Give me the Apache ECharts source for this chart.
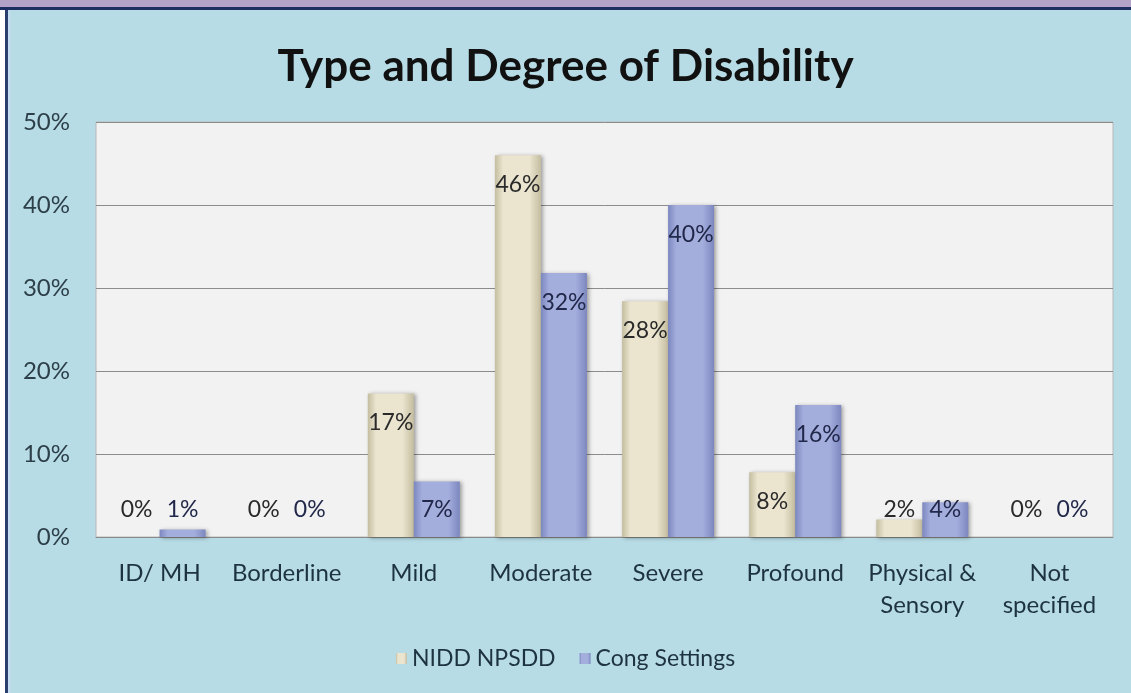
<!DOCTYPE html>
<html>
<head>
<meta charset="utf-8">
<script src="https://cdn.jsdelivr.net/npm/echarts@6/dist/echarts.min.js"></script>
<style>
html,body{margin:0;padding:0;background:#b7dce6;}
#chart{width:1131px;height:693px;}
</style>
</head>
<body>
<div id="chart"></div>
<script>
const categories = ['ID/ MH', 'Borderline', 'Mild', 'Moderate', 'Severe', 'Profound', 'Physical &\nSensory', 'Not\nspecified'];
const niddValues = [0, 0, 17.3, 46, 28.4, 7.8, 2.1, 0];
const congValues = [0.9, 0, 6.7, 31.8, 40, 15.9, 4.2, 0];
const seriesNames = ['NIDD NPSDD', 'Cong Settings'];
const yTicks = [0, 10, 20, 30, 40, 50];

const FONT = 'Lato, "Open Sans", sans-serif';

function grad(edge, mid) {
  return {
    type: 'linear', x: 0, y: 0, x2: 1, y2: 0,
    colorStops: [
      {offset: 0, color: edge},
      {offset: 0.18, color: mid},
      {offset: 0.75, color: mid},
      {offset: 1, color: edge}
    ]
  };
}

function buildData(values, textColor) {
  return values.map(v => ({
    value: v,
    label: v < 6.9
      ? {position: 'insideBottom', distance: 16, color: textColor}
      : {position: 'insideTop', distance: 18, color: textColor}
  }));
}

const chart = echarts.init(document.getElementById('chart'), null, {renderer: 'canvas'});
chart.setOption({
  backgroundColor: '#b7dce6',
  animation: false,
  graphic: [
    {type: 'rect', shape: {x: 0, y: 0, width: 1131, height: 7}, style: {fill: '#b3a3c9'}, z: 100},
    {type: 'rect', shape: {x: 0, y: 7, width: 1131, height: 3}, style: {fill: '#1d2f62'}, z: 100},
    {type: 'rect', shape: {x: 0, y: 10, width: 5, height: 683}, style: {fill: '#ffffff'}, z: 100},
    {type: 'rect', shape: {x: 5, y: 10, width: 3, height: 683}, style: {fill: '#2a3f6e'}, z: 100},
    {type: 'rect', shape: {x: 8, y: 10, width: 2, height: 683}, style: {fill: '#c6def2'}, z: 100}
  ],
  title: {
    text: 'Type and Degree of Disability',
    left: 'center',
    top: 40,
    textStyle: {fontFamily: FONT, fontSize: 44, fontWeight: 'bold', color: '#111111'}
  },
  legend: {
    data: seriesNames,
    bottom: 18,
    left: 'center',
    itemWidth: 11,
    itemHeight: 11,
    itemGap: 24,
    icon: 'rect',
    textStyle: {fontFamily: FONT, fontSize: 23, color: '#1e3340'}
  },
  grid: {left: 96, right: 18, top: 122, bottom: 156, show: true, backgroundColor: '#f2f2f2', borderColor: '#b8b8b8', borderWidth: 1},
  xAxis: {
    type: 'category',
    data: categories,
    axisTick: {show: false},
    axisLine: {lineStyle: {color: '#8a8a8a', width: 1}},
    axisLabel: {fontFamily: FONT, fontSize: 24, color: '#1e3340', margin: 20, lineHeight: 32, interval: 0}
  },
  yAxis: {
    type: 'value',
    min: yTicks[0],
    max: yTicks[yTicks.length - 1],
    interval: 10,
    axisLine: {show: false},
    axisTick: {show: false},
    splitLine: {lineStyle: {color: '#8c8c8c', width: 1}},
    axisLabel: {fontFamily: FONT, fontSize: 24, color: '#2d3f48', margin: 26, formatter: v => v + '%'}
  },
  series: [
    {
      name: seriesNames[0],
      type: 'bar',
      barWidth: 46,
      barGap: '0%',
      data: buildData(niddValues, '#2a2a2a'),
      itemStyle: {color: grad('#c4bd9f', '#ebe5d0'), shadowColor: 'rgba(0,0,0,0.35)', shadowBlur: 4, shadowOffsetX: 2, shadowOffsetY: 1},
      label: {show: true, fontFamily: FONT, fontSize: 23, formatter: p => Math.round(p.value) + '%'}
    },
    {
      name: seriesNames[1],
      type: 'bar',
      barWidth: 46,
      barGap: '0%',
      data: buildData(congValues, '#22284a'),
      itemStyle: {color: grad('#7c87bf', '#a4aedd'), shadowColor: 'rgba(0,0,0,0.35)', shadowBlur: 4, shadowOffsetX: 2, shadowOffsetY: 1},
      label: {show: true, fontFamily: FONT, fontSize: 23, formatter: p => Math.round(p.value) + '%'}
    }
  ]
});
</script>
</body>
</html>
